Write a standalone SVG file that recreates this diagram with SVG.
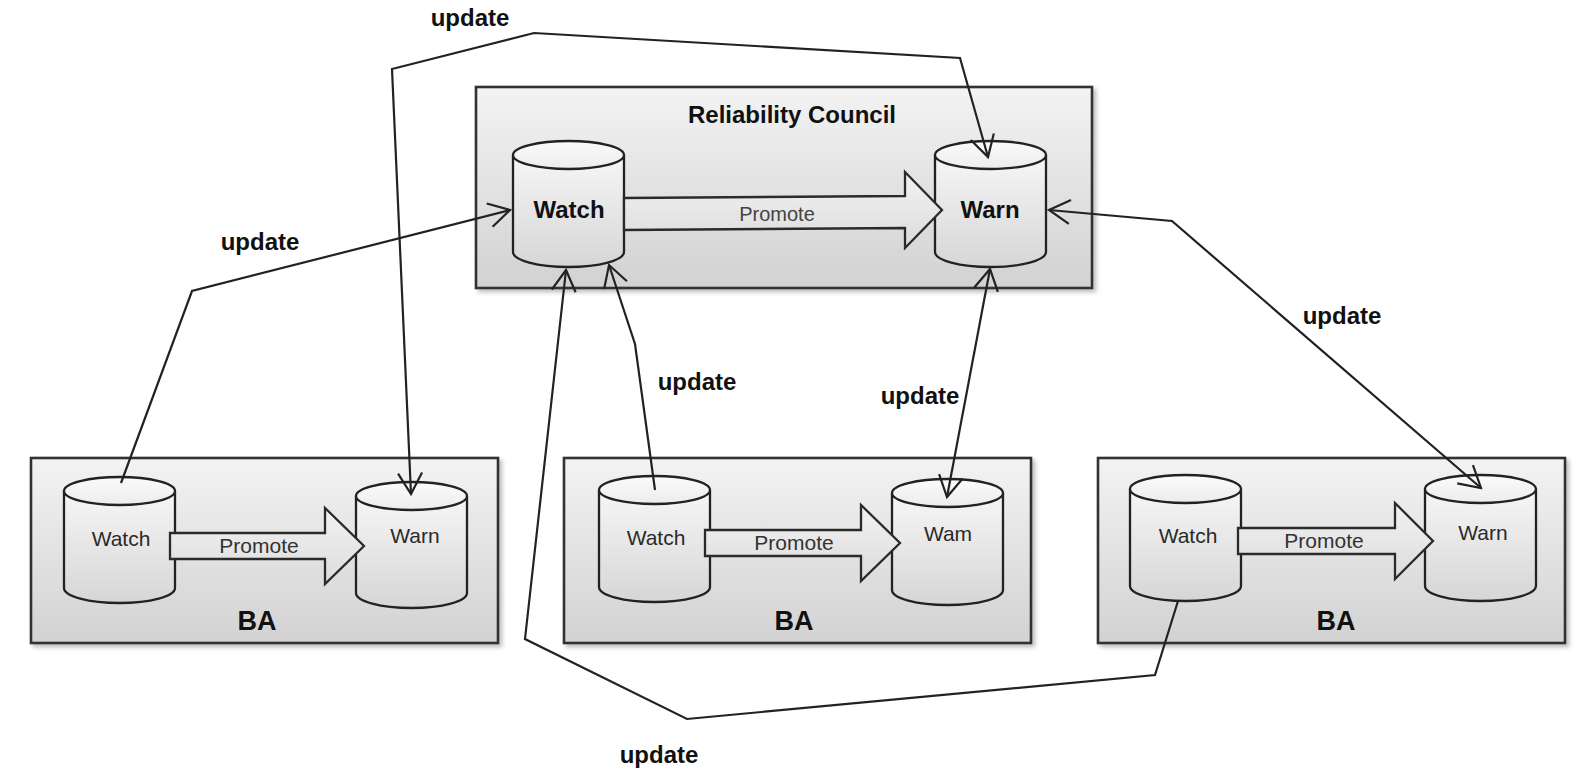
<svg xmlns="http://www.w3.org/2000/svg" width="1585" height="773" viewBox="0 0 1585 773">
  <style>
    .box { stroke: #333; stroke-width: 2.6; fill: url(#boxFill); filter: url(#shadow); }
    .cyl-body { fill: url(#cylFill); stroke: #222; stroke-width: 2.3; }
    .cyl-cap { fill: url(#capFill); stroke: #222; stroke-width: 2.3; }
    .flow { fill: url(#flowFill); stroke: #2a2a2a; stroke-width: 2.3; stroke-linejoin: miter; }
    .link { fill: none; stroke: #222; stroke-width: 2.2; stroke-linejoin: miter; }
    .title { font-family: "Liberation Sans", Arial, sans-serif; font-weight: bold; font-size: 24px; fill: #111; text-anchor: middle; }
    .ba { font-family: "Liberation Sans", Arial, sans-serif; font-weight: bold; font-size: 27px; fill: #111; text-anchor: middle; }
    .big { font-family: "Liberation Sans", Arial, sans-serif; font-weight: bold; font-size: 24px; fill: #111; text-anchor: middle; }
    .small { font-family: "Liberation Sans", Arial, sans-serif; font-size: 21px; fill: #2a2a2a; text-anchor: middle; }
    .promote { font-family: "Liberation Sans", Arial, sans-serif; font-size: 21px; fill: #333; text-anchor: middle; }
    .promote-lg { font-family: "Liberation Sans", Arial, sans-serif; font-size: 20px; fill: #444; text-anchor: middle; }
    .upd { font-family: "Liberation Sans", Arial, sans-serif; font-weight: bold; font-size: 24px; fill: #111; text-anchor: middle; }
  </style>
  <defs>
    <linearGradient id="boxFill" x1="0" y1="0" x2="0" y2="1">
      <stop offset="0" stop-color="#f3f3f3"/>
      <stop offset="1" stop-color="#d2d2d2"/>
    </linearGradient>
    <linearGradient id="cylFill" x1="0" y1="0" x2="0" y2="1">
      <stop offset="0" stop-color="#f6f6f6"/>
      <stop offset="1" stop-color="#d6d6d6"/>
    </linearGradient>
    <linearGradient id="capFill" x1="0" y1="0" x2="0" y2="1">
      <stop offset="0" stop-color="#fbfbfb"/>
      <stop offset="1" stop-color="#ececec"/>
    </linearGradient>
    <linearGradient id="flowFill" x1="0" y1="0" x2="0" y2="1">
      <stop offset="0" stop-color="#f2f2f2"/>
      <stop offset="1" stop-color="#dcdcdc"/>
    </linearGradient>
    <filter id="shadow" x="-5%" y="-5%" width="112%" height="115%">
      <feDropShadow dx="3" dy="3" stdDeviation="2" flood-color="#000" flood-opacity="0.25"/>
    </filter>
    <marker id="open" viewBox="0 0 26 26" refX="24" refY="13" markerWidth="26" markerHeight="26" markerUnits="userSpaceOnUse" orient="auto-start-reverse">
      <path d="M3,1 L24,13 L3,25" fill="none" stroke="#222" stroke-width="2.2"/>
    </marker>
    <!-- database cylinder, 111 x 126 -->
    <g id="cyl">
      <path class="cyl-body" d="M0,14 V111 A55.5,15 0 0 0 111,111 V14"/>
      <ellipse class="cyl-cap" cx="55.5" cy="14" rx="55.5" ry="14"/>
    </g>
  </defs>

  <rect width="1585" height="773" fill="#ffffff"/>

  <!-- Reliability Council -->
  <g id="council">
    <rect class="box" x="476" y="87" width="616" height="201"/>
    <text class="title" x="792" y="123">Reliability Council</text>
  </g>
  <g id="council-watch">
    <use href="#cyl" x="513" y="141"/>
    <text class="big" x="569" y="218">Watch</text>
  </g>
  <g id="council-warn">
    <use href="#cyl" x="935" y="141"/>
    <text class="big" x="990" y="218">Warn</text>
  </g>
  <g id="council-promote">
    <polygon class="flow" points="624,198 905,196 905,172 942,210 905,248 905,228 624,230"/>
    <text class="promote-lg" x="777" y="221">Promote</text>
  </g>

  <!-- BA 1 -->
  <g id="ba1">
    <rect class="box" x="31" y="458" width="467" height="185"/>
    <text class="ba" x="257" y="630">BA</text>
  </g>
  <g id="ba1-watch">
    <use href="#cyl" x="64" y="477"/>
    <text class="small" x="121" y="546">Watch</text>
  </g>
  <g id="ba1-warn">
    <use href="#cyl" x="356" y="482"/>
    <text class="small" x="415" y="543">Warn</text>
  </g>
  <g id="ba1-promote">
    <polygon class="flow" points="170,533 325,533 325,508 364,546 325,584 325,559 170,559"/>
    <text class="promote" x="259" y="553">Promote</text>
  </g>

  <!-- BA 2 -->
  <g id="ba2">
    <rect class="box" x="564" y="458" width="467" height="185"/>
    <text class="ba" x="794" y="630">BA</text>
  </g>
  <g id="ba2-watch">
    <use href="#cyl" x="599" y="476"/>
    <text class="small" x="656" y="545">Watch</text>
  </g>
  <g id="ba2-warn">
    <use href="#cyl" x="892" y="479"/>
    <text class="small" x="948" y="541">Wam</text>
  </g>
  <g id="ba2-promote">
    <polygon class="flow" points="705,530 861,530 861,505 900,543 861,581 861,556 705,556"/>
    <text class="promote" x="794" y="550">Promote</text>
  </g>

  <!-- BA 3 -->
  <g id="ba3">
    <rect class="box" x="1098" y="458" width="467" height="185"/>
    <text class="ba" x="1336" y="630">BA</text>
  </g>
  <g id="ba3-watch">
    <use href="#cyl" x="1130" y="475"/>
    <text class="small" x="1188" y="543">Watch</text>
  </g>
  <g id="ba3-warn">
    <use href="#cyl" x="1425" y="475"/>
    <text class="small" x="1483" y="540">Warn</text>
  </g>
  <g id="ba3-promote">
    <polygon class="flow" points="1238,528 1395,528 1395,503 1433,541 1395,579 1395,554 1238,554"/>
    <text class="promote" x="1324" y="548">Promote</text>
  </g>

  <!-- update links -->
  <g id="connectors">
    <polyline class="link" points="411,494 392,69 534,33 960,58 988,157" marker-start="url(#open)" marker-end="url(#open)"/>
    <polyline class="link" points="121,483 192,291 510,210" marker-end="url(#open)"/>
    <polyline class="link" points="655,490 635,344 609,265" marker-end="url(#open)"/>
    <polyline class="link" points="1178,601 1155,675 687,719 525,639 566,270" marker-end="url(#open)"/>
    <line class="link" x1="990" y1="269" x2="947" y2="497" marker-start="url(#open)" marker-end="url(#open)"/>
    <polyline class="link" points="1049,210 1172,221 1481,488" marker-start="url(#open)" marker-end="url(#open)"/>
  </g>

  <g id="link-labels">
    <text class="upd" x="470" y="26">update</text>
    <text class="upd" x="260" y="250">update</text>
    <text class="upd" x="697" y="390">update</text>
    <text class="upd" x="920" y="404">update</text>
    <text class="upd" x="1342" y="324">update</text>
    <text class="upd" x="659" y="763">update</text>
  </g>
</svg>
